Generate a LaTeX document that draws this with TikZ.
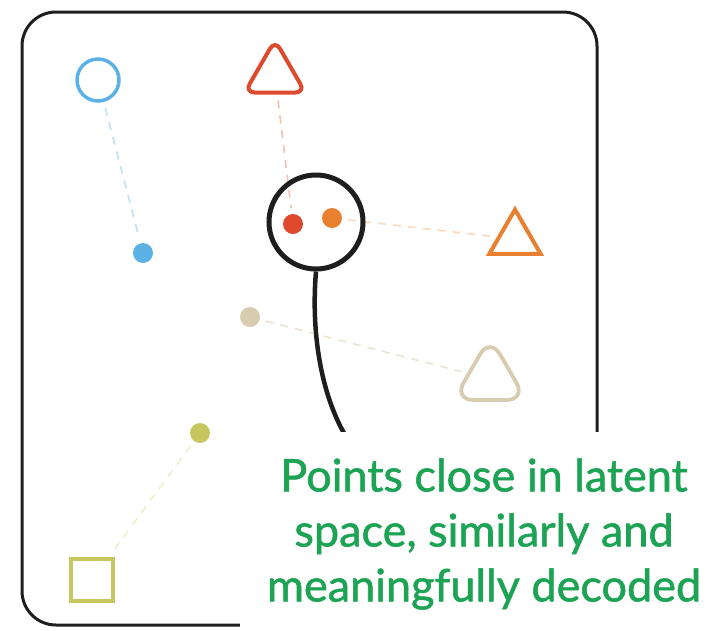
\documentclass[tikz,border=0pt]{standalone}
\usepackage{fontspec}
\setmainfont{Lato}
\newfontfamily\capfont{Lato}[FakeBold=1.2]
\usetikzlibrary{shapes.geometric}
\definecolor{cblue}{RGB}{92,178,228}
\definecolor{cred}{RGB}{222,74,46}
\definecolor{corange}{RGB}{232,128,48}
\definecolor{ctan}{RGB}{216,204,176}
\definecolor{colive}{RGB}{200,198,96}
\definecolor{cgreen}{RGB}{28,163,84}
\definecolor{cframe}{RGB}{30,30,30}
\begin{document}
\begin{tikzpicture}[x=1pt,y=-1pt,
  dot/.style={circle,fill=#1,draw=none,minimum size=20pt,inner sep=0pt},
  ring/.style={circle,draw=#1,line width=3.5pt,minimum size=42pt,inner sep=0pt},
  tri/.style={regular polygon,regular polygon sides=3,draw=#1,line width=4pt,inner sep=0pt},
  sq/.style={rectangle,draw=#1,line width=4pt,minimum size=42pt,inner sep=0pt},
  link/.style={draw=#1,line width=1.6pt,dash pattern=on 8pt off 7pt,shorten <=6pt,shorten >=6pt}]
\useasboundingbox (0,0) rectangle (718,630);

% outer frame of the latent space
\draw[cframe,line width=3pt,rounded corners=34pt] (22,12) rectangle (597,625);

% decoded shapes
\node[tri=cred,minimum size=70pt,rounded corners=10pt] (rtri) at (275,75) {};
\node[ring=cblue] (bring) at (98,80) {};
\node[tri=corange,minimum size=59pt] (otri) at (515,239) {};
\node[tri=ctan,minimum size=84pt,line width=3.8pt,rounded corners=20pt] (ttri) at (490,379) {};
\node[sq=colive] (osq) at (92,580) {};

% latent points
\node[dot=cblue] (bdot) at (143,253) {};
\node[dot=cred] (rdot) at (293,224) {};
\node[dot=corange] (odot) at (332,218) {};
\node[dot=ctan] (tdot) at (250,317) {};
\node[dot=colive] (ldot) at (200,433) {};

% dashed links from each point to its decoding
\draw[link=cblue!40] (bring) -- (bdot);
\draw[link=cred!35] (rtri) -- (rdot);
\draw[link=corange!30] (odot) -- (otri);
\draw[link=ctan!55] (tdot) -- (ttri);
\draw[link=colive!30] (ldot) -- (osq);

% magnifier ring around the two close points
\node[circle,draw=cframe,line width=5pt,minimum size=94pt,inner sep=0pt] (lens) at (316,222) {};
\coordinate (stemend) at (348,440);
\draw[cframe,line width=4.5pt] (lens.south) .. controls (311,330) and (320,395) .. (stemend);

% caption panel
\fill[white] (240,432) rectangle (718,630);
\node[text=cgreen,font=\capfont\fontsize{45}{55}\selectfont,align=center,inner sep=0pt] (cap) at (484,534)
  {Points close in latent\\space, similarly and\\meaningfully decoded};
\end{tikzpicture}
\end{document}
